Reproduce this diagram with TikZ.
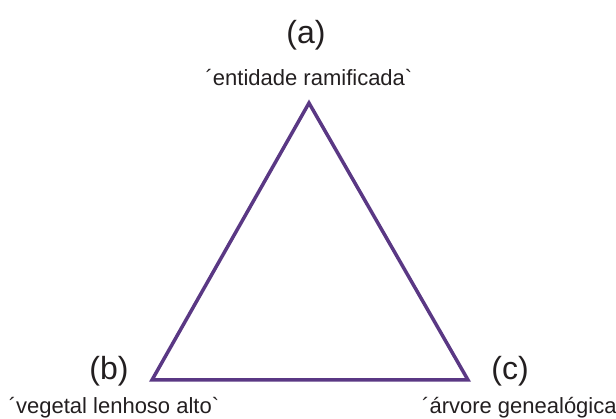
\documentclass[tikz,border=0pt]{standalone}
\usepackage{fontspec}
\setmainfont{Liberation Sans}[Ligatures=TeXOff]
\definecolor{tripurple}{RGB}{90,56,132}
\definecolor{txtgray}{RGB}{35,31,32}
\begin{document}
\begin{tikzpicture}[x=1pt,y=-1pt,
  vlabel/.style={inner sep=0pt,anchor=base,text=txtgray,font=\fontsize{32}{34}\selectfont},
  wlabel/.style={inner sep=0pt,anchor=base,text=txtgray,font=\fontsize{22}{24}\selectfont},
  tri/.style={draw=tripurple,line width=3.5pt,line join=miter}]
\useasboundingbox (0,0) rectangle (616,419);
\coordinate (A) at (309,103);
\coordinate (B) at (152,380);
\coordinate (C) at (468,380);
\draw[tri] (A) -- (B) -- (C) -- cycle;
\node[vlabel] (la) at (306,44) {(a)};
\node[wlabel] (wa) at (309,86) {´entidade ramificada`};
\node[vlabel] (lb) at (109,380) {(b)};
\node[wlabel] (wb) at (114,414) {´vegetal lenhoso alto`};
\node[vlabel] (lc) at (510,380) {(c)};
\node[wlabel,anchor=base west] (wc) at (422,414) {´árvore genealógica`};
\end{tikzpicture}
\end{document}
